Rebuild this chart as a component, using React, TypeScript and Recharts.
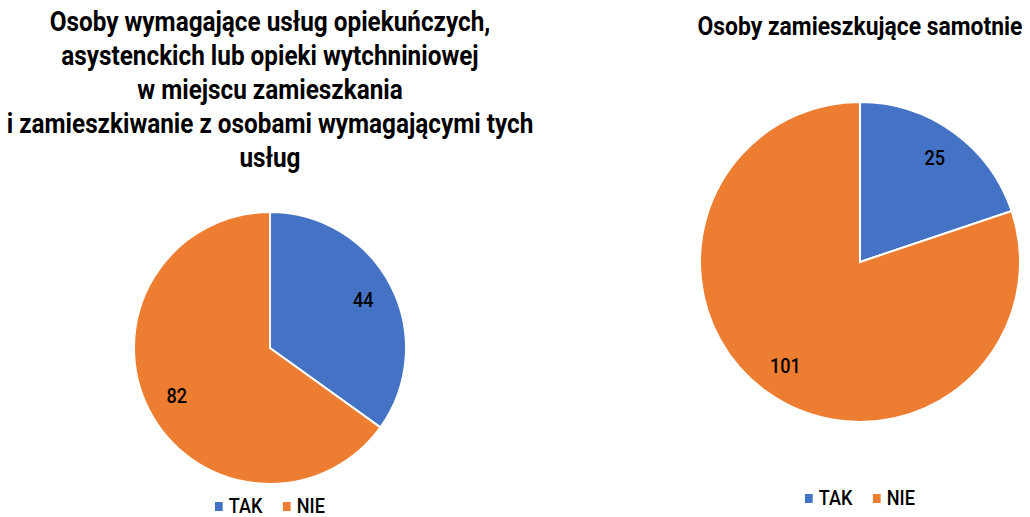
import React from "react";
import { PieChart, Pie, Cell, Legend } from "recharts";

const categories = ["TAK", "NIE"];
const careValues = [44, 82];
const aloneValues = [25, 101];
const careTitle = [
  "Osoby wymagające usług opiekuńczych,",
  "asystenckich lub opieki wytchniniowej",
  "w miejscu zamieszkania",
  "i zamieszkiwanie z osobami wymagającymi tych",
  "usług",
];
const aloneTitle = ["Osoby zamieszkujące samotnie"];

const COLORS = ["#4472C4", "#ED7D31"];
const FONT = "Roboto, 'Noto Sans', sans-serif";
// the reference uses a condensed face; squeeze Roboto horizontally
const SQUEEZE = 0.86;

const RADIAN = Math.PI / 180;

function makeLabel(ratio: number) {
  return (props: any) => {
    const { cx, cy, midAngle, outerRadius, value } = props;
    const r = outerRadius * ratio;
    const x = cx + r * Math.cos(-midAngle * RADIAN);
    const y = cy + r * Math.sin(-midAngle * RADIAN);
    return (
      <text
        transform={`translate(${x},${y}) scale(${SQUEEZE},1)`}
        textAnchor="middle"
        dominantBaseline="central"
        fill="#000"
        fontSize={21}
        fontWeight={500}
        fontFamily={FONT}
      >
        {value}
      </text>
    );
  };
}

function LegendContent() {
  return (
    <div
      style={{
        display: "flex",
        justifyContent: "center",
        gap: 24,
        fontFamily: FONT,
        fontSize: 21,
        fontWeight: 500,
        color: "#000",
        transform: `scaleX(${SQUEEZE})`,
      }}
    >
      {categories.map((c, i) => (
        <span key={c} style={{ display: "flex", alignItems: "center" }}>
          <span style={{ width: 9, height: 9, background: COLORS[i], display: "inline-block", marginRight: 7 }} />
          {c}
        </span>
      ))}
    </div>
  );
}

interface PanelProps {
  values: number[];
  title: string[];
  left: number;
  width: number;
  cy: number;
  radius: number;
  titleTop: number;
  titleSize: number;
  titleSqueeze: number;
  legendTop: number;
  labelRatio: number;
}

function Panel({ values, title, left, width, cy, radius, titleTop, titleSize, titleSqueeze, legendTop, labelRatio }: PanelProps) {
  const data = categories.map((name, i) => ({ name, value: values[i] }));
  return (
    <div style={{ position: "absolute", left, top: 0, width, height: 517 }}>
      <div
        style={{
          position: "absolute",
          top: titleTop,
          left: width / 2 - 400,
          width: 800,
          textAlign: "center",
          fontFamily: FONT,
          fontSize: titleSize,
          fontWeight: 700,
          lineHeight: "34px",
          color: "#000",
          whiteSpace: "nowrap",
          transform: `scaleX(${titleSqueeze})`,
        }}
      >
        {title.map((t) => (
          <div key={t}>{t}</div>
        ))}
      </div>
      <PieChart width={width} height={517} margin={{ top: 0, right: 0, bottom: 0, left: 0 }}>
        <Pie
          data={data}
          dataKey="value"
          nameKey="name"
          cx={width / 2}
          cy={cy}
          outerRadius={radius}
          startAngle={90}
          endAngle={-270}
          stroke="#fff"
          strokeWidth={2}
          label={makeLabel(labelRatio)}
          labelLine={false}
          isAnimationActive={false}
        >
          {data.map((d, i) => (
            <Cell key={d.name} fill={COLORS[i]} />
          ))}
        </Pie>
        <Legend content={<LegendContent />} wrapperStyle={{ top: legendTop, left: 0, width }} />
      </PieChart>
    </div>
  );
}

export default function App() {
  return (
    <div style={{ position: "absolute", left: 0, top: 0, width: 1030, height: 517, background: "#fff", overflow: "hidden" }}>
      <Panel
        values={careValues}
        title={careTitle}
        left={0}
        width={540}
        cy={348}
        radius={136}
        titleTop={5}
        titleSize={27}
        titleSqueeze={0.9}
        legendTop={494}
        labelRatio={0.77}
      />
      <Panel
        values={aloneValues}
        title={aloneTitle}
        left={690}
        width={340}
        cy={262}
        radius={160}
        titleTop={9}
        titleSize={26}
        titleSqueeze={0.88}
        legendTop={486}
        labelRatio={0.8}
      />
    </div>
  );
}
